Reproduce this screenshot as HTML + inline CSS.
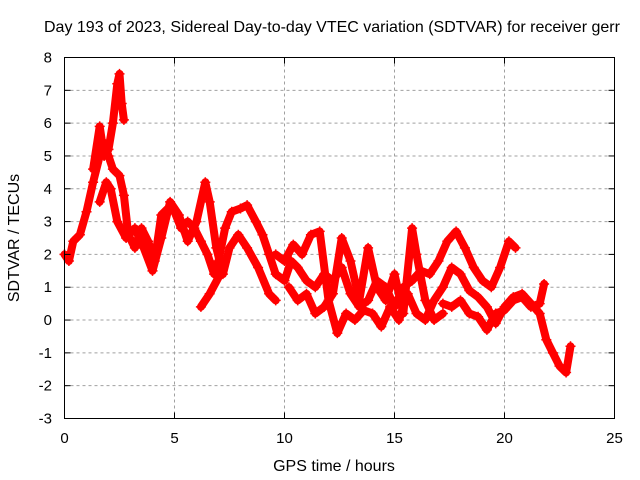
<!DOCTYPE html>
<html><head><meta charset="utf-8"><style>
html,body{margin:0;padding:0;background:#fff;}
svg{display:block;font-family:"Liberation Sans",sans-serif;}
</style></head><body>
<svg id="chart" width="640" height="480" viewBox="0 0 640 480">
<rect x="0" y="0" width="640" height="480" fill="#fff"/>
<text x="44" y="32" font-size="16" fill="#000">Day 193 of 2023, Sidereal Day-to-day VTEC variation (SDTVAR) for receiver gerr</text>
<g id="grid"></g>
<g id="series"></g>
<rect x="64.5" y="57.5" width="550" height="361" fill="none" stroke="#000" stroke-width="1"/>
<g id="axes" font-size="15" fill="#000"></g>
<text x="334" y="471" font-size="16" text-anchor="middle">GPS time / hours</text>
<text transform="translate(19,238) rotate(-90)" font-size="16" text-anchor="middle">SDTVAR / TECUs</text>
</svg>
<script>
const xTicks = [0,5,10,15,20,25];
const yTicks = [-3,-2,-1,0,1,2,3,4,5,6,7,8];
const seriesA_t = [0,0.2,0.4,0.7,1.0,1.3,1.6,1.8,2.0,2.2,2.5,2.7,2.9,3.2,3.5,3.8,4.1,4.4,4.7,5.0,5.3,5.6,5.9,6.2,6.5,6.8,7.0,7.3,7.6,8.0,8.3,8.7,9.0,9.3,9.6,10.0,10.3,10.6,11.0,11.4,11.8,12.2,12.6,13.0,13.4,13.8,14.2,14.6,15.0,15.4,15.8,16.2,16.6,17.0,17.4,17.8,18.2,18.6,19.0,19.4,19.8,20.2,20.5];
const seriesA_v = [2.0,1.8,2.4,2.6,3.3,4.2,5.0,5.4,5.0,4.6,4.4,3.8,2.6,2.2,2.8,2.4,1.8,3.2,3.4,3.3,2.8,3.0,2.8,2.4,2.0,1.4,1.8,2.8,3.3,3.4,3.5,3.0,2.6,2.0,1.4,1.2,1.8,1.6,1.2,1.0,1.4,1.2,1.6,0.8,0.4,0.6,1.2,1.0,0.4,1.0,1.2,1.5,1.4,1.8,2.4,2.7,2.2,1.6,1.2,1.0,1.6,2.4,2.2];
const seriesB_t = [1.3,1.6,1.8,2.0,2.2,2.4,2.5,2.6,2.7];
const seriesB_v = [4.6,5.9,5.0,5.2,6.0,7.2,7.5,6.6,6.1];
const seriesC_t = [1.6,1.9,2.1,2.4,2.8,3.2,3.6,4.0,4.4,4.8,5.2,5.6,6.0,6.4,6.6,6.9,7.2,7.5,7.9,8.3,8.8,9.3,9.6];
const seriesC_v = [3.6,4.2,4.0,3.0,2.5,2.8,2.2,1.5,2.5,3.6,3.2,2.4,3.0,4.2,3.6,2.2,1.4,2.2,2.6,2.2,1.6,0.8,0.6];
const seriesG_t = [6.2,6.6,7.0];
const seriesG_v = [0.4,0.8,1.3];
const seriesD_t = [9.6,10.0,10.4,10.8,11.2,11.6,12.0,12.4,12.8,13.2,13.6,14.0,14.4,14.8,15.2,15.6,16.0,16.4,16.8,17.2,17.6,18.0,18.4,18.8,19.2,19.6,20.0,20.4,20.8,21.2,21.6,21.9,22.2,22.5,22.8,23.0];
const seriesD_v = [2.0,1.8,2.3,2.0,2.6,2.7,0.6,-0.4,0.2,0.0,0.3,0.2,-0.2,0.4,0.0,0.8,0.2,0.0,0.6,1.0,1.6,1.4,0.9,0.7,0.4,-0.1,0.4,0.7,0.8,0.5,0.2,-0.6,-1.0,-1.4,-1.6,-0.8];
const seriesE_t = [17.2,17.6,18.0,18.4,18.8,19.2,19.6,20.0,20.4,20.8,21.2,21.6,21.8];
const seriesE_v = [0.5,0.4,0.6,0.2,0.1,-0.3,0.2,0.3,0.6,0.7,0.4,0.5,1.1];
const seriesF_t = [10.2,10.6,11.0,11.4,11.8,12.2,12.6,13.0,13.4,13.8,14.2,14.6,15.0,15.4,15.8,16.0,16.4,16.8,17.2];
const seriesF_v = [1.0,0.6,0.8,0.2,0.4,0.8,2.5,1.8,0.6,2.2,1.0,0.6,1.4,0.2,2.8,2.0,0.6,0.0,0.2];

const NS='http://www.w3.org/2000/svg';
const X0=64.5,X1=614.5,Y0=418.5,Y1=57.5;
function xs(t){return X0+(t-0)/(25-0)*(X1-X0);}
function ys(v){return Y0-(v-(-3))/(8-(-3))*(Y0-Y1);}
function mk(tag,attrs,parent){const e=document.createElementNS(NS,tag);for(const k in attrs)e.setAttribute(k,attrs[k]);parent.appendChild(e);return e;}
const grid=document.getElementById('grid'),axes=document.getElementById('axes'),ser=document.getElementById('series');
xTicks.forEach(t=>{
  const x=xs(t);
  if(t>0&&t<25){const g=mk('line',{x1:x,x2:x,y1:Y1,y2:Y0,stroke:'#a0a0a0','stroke-dasharray':'3,3'},grid);
  
  }
  mk('line',{x1:x,x2:x,y1:Y0,y2:Y0-6,stroke:'#000'},axes);
  mk('line',{x1:x,x2:x,y1:Y1,y2:Y1+6,stroke:'#000'},axes);
  const l=mk('text',{x:x,y:443,'text-anchor':'middle'},axes);l.textContent=t;
  
  
});
yTicks.forEach(v=>{
  const y=ys(v);
  if(v>-3&&v<8){const g=mk('line',{x1:X0,x2:X1,y1:y,y2:y,stroke:'#a0a0a0','stroke-dasharray':'3,3'},grid);
  
  }
  mk('line',{x1:X0,x2:X0+6,y1:y,y2:y,stroke:'#000'},axes);
  mk('line',{x1:X1,x2:X1-6,y1:y,y2:y,stroke:'#000'},axes);
  const l=mk('text',{x:52,y:y+5,'text-anchor':'end'},axes);l.textContent=v;
  
  
});
const allSeries=[[seriesA_t,seriesA_v],[seriesB_t,seriesB_v],[seriesC_t,seriesC_v],[seriesG_t,seriesG_v],[seriesD_t,seriesD_v],[seriesE_t,seriesE_v],[seriesF_t,seriesF_v]];
allSeries.forEach((s,i)=>{
  const g=mk('g',{},ser);
  
  
  const pts=s[0].map((t,j)=>xs(t).toFixed(1)+','+ys(s[1][j]).toFixed(1)).join(' ');
  mk('polyline',{points:pts,fill:'none',stroke:'#ff0000','stroke-width':8,'stroke-linejoin':'round','stroke-linecap':'round'},g);
  s[0].forEach((t,j)=>{
    const x=xs(t),y=ys(s[1][j]);
    const p=mk('path',{d:`M${x-5},${y}H${x+5}M${x},${y-5}V${y+5}`,stroke:'#ff0000','stroke-width':1.5},g);
    
    
  });
});
</script>
</body></html>
